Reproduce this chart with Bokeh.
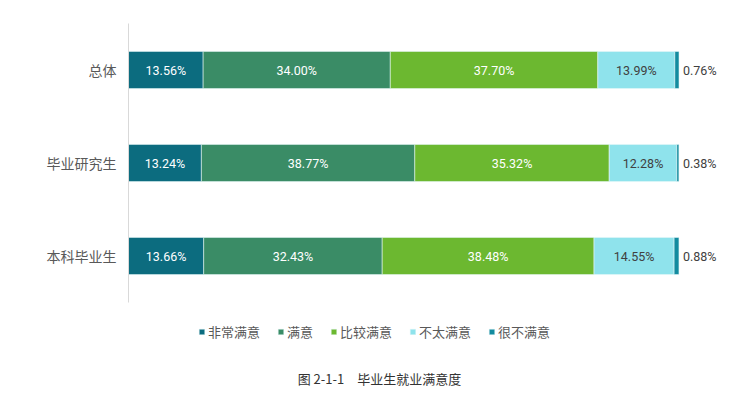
from bokeh.plotting import figure
from bokeh.models import ColumnDataSource, Range1d, Legend, LegendItem, Label, FixedTicker
from bokeh.core.properties import value
from bokeh.embed import file_html
from bokeh.resources import INLINE

groups = ["总体", "毕业研究生", "本科毕业生"]
series = ["非常满意", "满意", "比较满意", "不太满意", "很不满意"]
very_satisfied = [13.56, 13.24, 13.66]
satisfied = [34.00, 38.77, 32.43]
fairly_satisfied = [37.70, 35.32, 38.48]
not_very = [13.99, 12.28, 14.55]
very_unsatisfied = [0.76, 0.38, 0.88]
colors = ["#0c6c7f", "#3a8c66", "#6cb830", "#8fe3ec", "#138b9f"]
text_colors = ["white", "white", "white", "#404040", "#404040"]
caption = "图 2-1-1　毕业生就业满意度"

values = [very_satisfied, satisfied, fairly_satisfied, not_very, very_unsatisfied]
keys = ["s0", "s1", "s2", "s3", "s4"]

n = len(groups)
ypos = [n - 1 - i for i in range(n)]  # top-to-bottom order

data = {"y": ypos}
for k, v in zip(keys, values):
    data[k] = v
source = ColumnDataSource(data)

W, H = 734, 393
top_border = 23
frame_h = H - top_border
unit_px = 93.0
y_top = n - 0.5
y_bottom = y_top - frame_h / unit_px

p = figure(width=W, height=H, output_backend="svg", toolbar_location=None,
           y_range=Range1d(y_bottom, y_top), x_range=Range1d(0, 109),
           min_border_left=128, min_border_top=top_border, min_border_right=6, min_border_bottom=0)

renderers = p.hbar_stack(keys, y="y", height=0.4, color=colors, source=source,
                         line_color="#e8f8fa", line_width=0.7, line_alpha=0.8)

# value labels
for i, (k, v) in enumerate(zip(keys, values)):
    lefts = [sum(values[m][j] for m in range(i)) for j in range(n)]
    if i < 4:
        xs = [l + vv / 2 for l, vv in zip(lefts, v)]
        align, xo = "center", 0
    else:
        xs = [l + vv for l, vv in zip(lefts, v)]
        align, xo = "left", 4
    ls = ColumnDataSource(dict(x=xs, y=ypos, t=["%.2f%%" % vv for vv in v]))
    p.text(x="x", y="y", text="t", source=ls, text_align=align, text_baseline="middle",
           x_offset=xo, text_font=value("Roboto"), text_font_size="12.5px",
           text_color=text_colors[i])

p.xaxis.visible = False
p.xgrid.visible = False
p.ygrid.visible = False
p.outline_line_color = None
p.yaxis.ticker = FixedTicker(ticks=ypos)
p.yaxis.major_label_overrides = {yy: g for yy, g in zip(ypos, groups)}
p.yaxis.bounds = (-0.5, n - 0.5)
p.yaxis.axis_line_color = "#d9d9d9"
p.yaxis.major_tick_line_color = None
p.yaxis.minor_tick_line_color = None
p.yaxis.major_label_text_font = "Noto Sans CJK SC"
p.yaxis.major_label_text_font_size = "14px"
p.yaxis.major_label_text_color = "#595959"
p.yaxis.major_label_standoff = 6

legend = Legend(items=[LegendItem(label=s, renderers=[r]) for s, r in zip(series, renderers)],
                orientation="horizontal", location=(70, H - 331 - 10),
                label_text_font="Noto Sans CJK SC", label_text_font_size="13px",
                label_text_color="#595959", glyph_width=7, glyph_height=7,
                label_standoff=3, spacing=17, padding=0, margin=0,
                border_line_color=None, background_fill_alpha=0)
p.add_layout(legend, "center")

p.add_layout(Label(x=251, y=H - 378, x_units="screen", y_units="screen", text=caption,
                   text_align="center", text_baseline="middle",
                   text_font="Noto Sans CJK SC", text_font_size="13px",
                   text_color="#333333"))

open("out.html", "w").write(file_html(p, INLINE))
